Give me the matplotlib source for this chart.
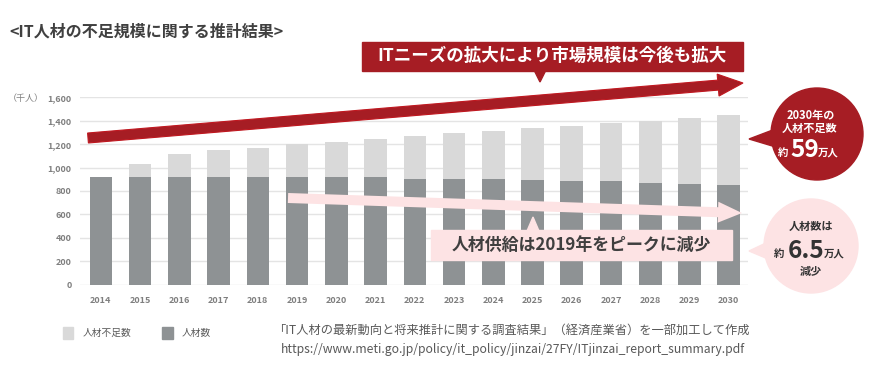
import matplotlib
matplotlib.use("Agg")
import matplotlib.pyplot as plt
from matplotlib.patches import Rectangle, Polygon, Circle, FancyArrow, Patch

plt.rcParams['font.family'] = ['Noto Sans CJK JP', 'DejaVu Sans']

# data (thousand people)
years = ['2014', '2015', '2016', '2017', '2018', '2019', '2020', '2021', '2022',
         '2023', '2024', '2025', '2026', '2027', '2028', '2029', '2030']
supply = [917, 917, 917, 917, 917, 917, 917, 917, 905,
          905, 905, 897, 883, 883, 871, 860, 849]
shortage = [0, 111, 199, 231, 253, 282, 302, 330, 365,
            388, 408, 439, 475, 498, 527, 564, 598]
y_ticks = [0, 200, 400, 600, 800, 1000, 1200, 1400, 1600]

DARK = '#8e9294'
LIGHT = '#d9d9d9'
RED = '#a61d24'
PINK = '#fde3e4'
TXT = '#7f7f7f'

W, H = 886, 370


def main():
    fig = plt.figure(figsize=(W / 100, H / 100), dpi=100)
    ax = fig.add_axes([80 / W, 1 - 284.7 / H, 668 / W, 187.4 / H])

    x = list(range(len(years)))
    ax.bar(x, supply, width=0.575, color=DARK, zorder=2, label='人材数')
    ax.bar(x, shortage, width=0.575, bottom=supply, color=LIGHT, zorder=2,
           label='人材不足数')

    ax.set_xlim(-0.53, len(years) - 0.51)
    ax.set_ylim(0, 1600)
    ax.set_yticks(y_ticks)
    ax.set_yticklabels([f'{v:,}' for v in y_ticks])
    ax.set_xticks(x)
    ax.set_xticklabels(years)
    ax.tick_params(length=0, labelsize=6.5, labelcolor=TXT)
    ax.tick_params(axis='x', pad=8)
    ax.tick_params(axis='y', pad=6)
    for lbl in ax.get_xticklabels() + ax.get_yticklabels():
        lbl.set_fontweight('bold')
    ax.yaxis.grid(True, color='#e4e4e4', lw=1)
    ax.set_axisbelow(True)
    for s in ax.spines.values():
        s.set_visible(False)

    handles = [Patch(color=LIGHT, label='人材不足数'), Patch(color=DARK, label='人材数')]
    fig.legend(handles=handles, loc='center left', bbox_to_anchor=(54 / W, 1 - 333 / H),
               ncol=2, frameon=False, fontsize=7, handlelength=1.1, handleheight=1.6,
               columnspacing=3.2, handletextpad=0.9, labelcolor='#595959')

    # overlay in pixel coordinates for annotations
    ov = fig.add_axes([0, 0, 1, 1], zorder=5)
    ov.set_xlim(0, W)
    ov.set_ylim(H, 0)
    ov.axis('off')
    ov.patch.set_alpha(0)

    ov.text(9, 32, '<IT人材の不足規模に関する推計結果>', fontsize=11.5, fontweight='bold',
            color='#404040', va='center', ha='left')

    # red rising arrow
    ov.add_patch(FancyArrow(88, 138, 655, -55, width=10, head_width=22, head_length=25,
                            length_includes_head=True, color=RED, ec='#c01820', lw=0.8))
    # banner
    ov.add_patch(Rectangle((362, 42), 381, 29, color=RED))
    ov.add_patch(Polygon([(534, 70), (546, 70), (540, 82)], color=RED))
    ov.text(552, 56, 'ITニーズの拡大により市場規模は今後も拡大', fontsize=12.6,
            fontweight='bold', color='white', ha='center', va='center')

    # pink falling arrow
    ov.add_patch(FancyArrow(288, 198, 454, 15, width=10, head_width=21, head_length=24,
                            length_includes_head=True, color=PINK, lw=0))
    ov.add_patch(Rectangle((431, 230), 301, 30, color=PINK))
    ov.add_patch(Polygon([(527, 231), (539, 231), (533, 217)], color=PINK))
    ov.text(581, 245, '人材供給は2019年をピークに減少', fontsize=12.2, fontweight='bold',
            color='#3f3f3f', ha='center', va='center')

    # red bubble
    ov.add_patch(Circle((817, 134), 46, color=RED))
    ov.add_patch(Polygon([(749, 139), (778, 128), (779, 148)], color=RED))
    ov.text(811, 115, '2030年の', fontsize=8, fontweight='bold', color='white',
            ha='center', va='center')
    ov.text(810, 128, '人材不足数', fontsize=8, fontweight='bold', color='white',
            ha='center', va='center')
    ov.text(783, 153, '約', fontsize=7.5, fontweight='bold', color='white',
            ha='center', va='center')
    ov.text(805, 150, '59', fontsize=17.5, fontweight='bold', color='white',
            ha='center', va='center')
    ov.text(818, 153, '万人', fontsize=7.5, fontweight='bold', color='white',
            ha='left', va='center')

    # pink bubble
    ov.add_patch(Circle((811, 246), 47, color=PINK))
    ov.add_patch(Polygon([(749, 251), (768, 242), (768, 259)], color=PINK))
    ov.text(811, 226, '人材数は', fontsize=8, fontweight='bold', color='#333333',
            ha='center', va='center')
    ov.text(779, 254, '約', fontsize=7.5, fontweight='bold', color='#333333',
            ha='center', va='center')
    ov.text(806, 251, '6.5', fontsize=17.5, fontweight='bold', color='#333333',
            ha='center', va='center')
    ov.text(824, 254, '万人', fontsize=7.5, fontweight='bold', color='#333333',
            ha='left', va='center')
    ov.text(811, 271, '減少', fontsize=8, fontweight='bold', color='#333333',
            ha='center', va='center')

    # units and source
    ov.text(44, 98, '（千人）', fontsize=6.5, color=TXT, ha='right', va='center')
    ov.text(511, 330, '「IT人材の最新動向と将来推計に関する調査結果」（経済産業省）を一部加工して作成',
            fontsize=8.8, color='#595959', ha='center', va='center')
    ov.text(513, 349, 'https://www.meti.go.jp/policy/it_policy/jinzai/27FY/ITjinzai_report_summary.pdf',
            fontsize=8.8, color='#595959', ha='center', va='center')

    fig.savefig('out.png', dpi=100)


if __name__ == "__main__":
    main()
